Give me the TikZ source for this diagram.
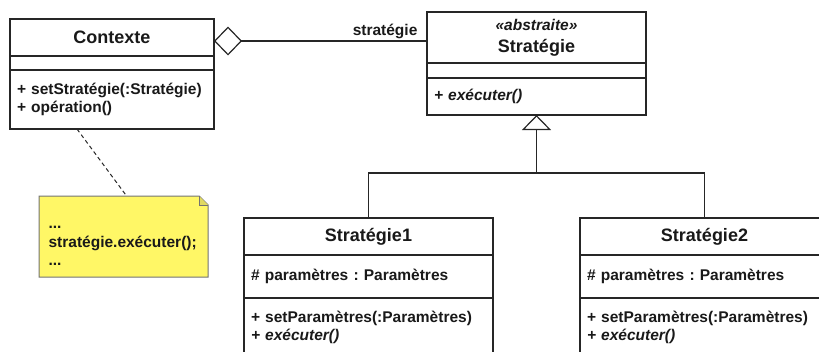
\documentclass[tikz,border=0pt]{standalone}
\usepackage{fontspec}
\setmainfont{Liberation Sans}
\frenchspacing
\usetikzlibrary{positioning,arrows.meta,backgrounds}

\tikzset{
  umlbox/.style={draw=black!85, fill=white, line width=1.2pt, outer sep=0pt, inner sep=0pt, text=black!90},
  classname/.style={umlbox, font=\fontsize{18}{21}\selectfont\bfseries, align=center},
  compart/.style 2 args={umlbox, font=\fontsize{15.5}{18.5}\selectfont\bfseries, align=left,
    inner xsep=7pt, text width=#1, minimum height=#2},
  notebox/.style={fill=yellow!60!white, draw=black!55, line width=1pt},
}

\begin{document}
\begin{tikzpicture}[x=1pt, y=-1pt, line width=1.2pt, draw=black!85]

    \useasboundingbox (0,0) rectangle (819,351);
    \clip (0,0) rectangle (819,351);

    % Class Contexte
    \node[classname, minimum width=204pt, minimum height=37pt, anchor=north west] (ctxHead) at (10,19) {Contexte};
    \node[compart={190pt}{14pt}, below=0pt of ctxHead] (ctxAttr) {};
    \node[compart={190pt}{59pt}, below=0pt of ctxAttr] (ctxOps) {+ setStratégie(:Stratégie)\\+ opération()};

    % Abstract class Strategie
    \node[classname, minimum width=219pt, minimum height=51pt, anchor=north west] (stratHead) at (427,12)
        {{\fontsize{15.5}{18}\selectfont\itshape «abstraite»}\\[1pt]Stratégie};
    \node[compart={205pt}{15pt}, below=0pt of stratHead] (stratAttr) {};
    \node[compart={205pt}{37pt}, below=0pt of stratAttr] (stratOps) {\itshape + exécuter()};

    % Class Strategie1
    \node[classname, minimum width=249pt, minimum height=37pt, anchor=north west] (s1Head) at (244,218) {Stratégie1};
    \node[compart={235pt}{43pt}, below=0pt of s1Head] (s1Attr) {\# paramètres : Paramètres};
    \node[compart={235pt}{59pt}, below=0pt of s1Attr] (s1Ops) {+ setParamètres(:Paramètres)\\\itshape + exécuter()};

    % Class Strategie2
    \node[classname, minimum width=249pt, minimum height=37pt, anchor=north west] (s2Head) at (580,218) {Stratégie2};
    \node[compart={235pt}{43pt}, below=0pt of s2Head] (s2Attr) {\# paramètres : Paramètres};
    \node[compart={235pt}{59pt}, below=0pt of s2Attr] (s2Ops) {+ setParamètres(:Paramètres)\\\itshape + exécuter()};

    % Note
    \node[minimum width=168pt, minimum height=80pt, anchor=north west, inner xsep=9pt, text width=150pt,
          text height=21pt, align=left, font=\fontsize{15.5}{18.5}\selectfont\bfseries, text=black!90] (note) at (39,196)
        {...\\stratégie.exécuter();\\...};
    \begin{scope}[on background layer]
      \draw[notebox] (note.north west) -- ([xshift=-9pt]note.north east) -- ([yshift=-9pt]note.north east)
          -- (note.south east) -- (note.south west) -- cycle;
      \draw[notebox, fill=yellow!80!black!70!white] ([xshift=-9pt]note.north east)
          -- ([xshift=-9pt,yshift=-9pt]note.north east) -- ([yshift=-9pt]note.north east);
    \end{scope}

    % Aggregation
    \draw[{Diamond[open, length=28pt, width=29pt]}-] ([yshift=-3.5pt]ctxHead.east) -- ([yshift=-3.5pt]stratHead.west)
        node[pos=1, anchor=south east, xshift=-7pt, inner sep=2pt, font=\fontsize{15.5}{18}\selectfont\bfseries,
             text=black!90] (role) {stratégie};

    % Note link
    \draw[line width=1pt, dash pattern=on 4pt off 3pt] ([xshift=-35pt]ctxOps.south) -- ([xshift=3pt]note.north);

    % Generalization
    \coordinate (gen) at (stratOps.south |- 0,173);
    \draw (s1Head.north) |- (gen) -| (s2Head.north);
    \draw[-{Triangle[open, length=15pt, width=29pt]}] (gen) -- (stratOps.south);

\end{tikzpicture}
\end{document}
